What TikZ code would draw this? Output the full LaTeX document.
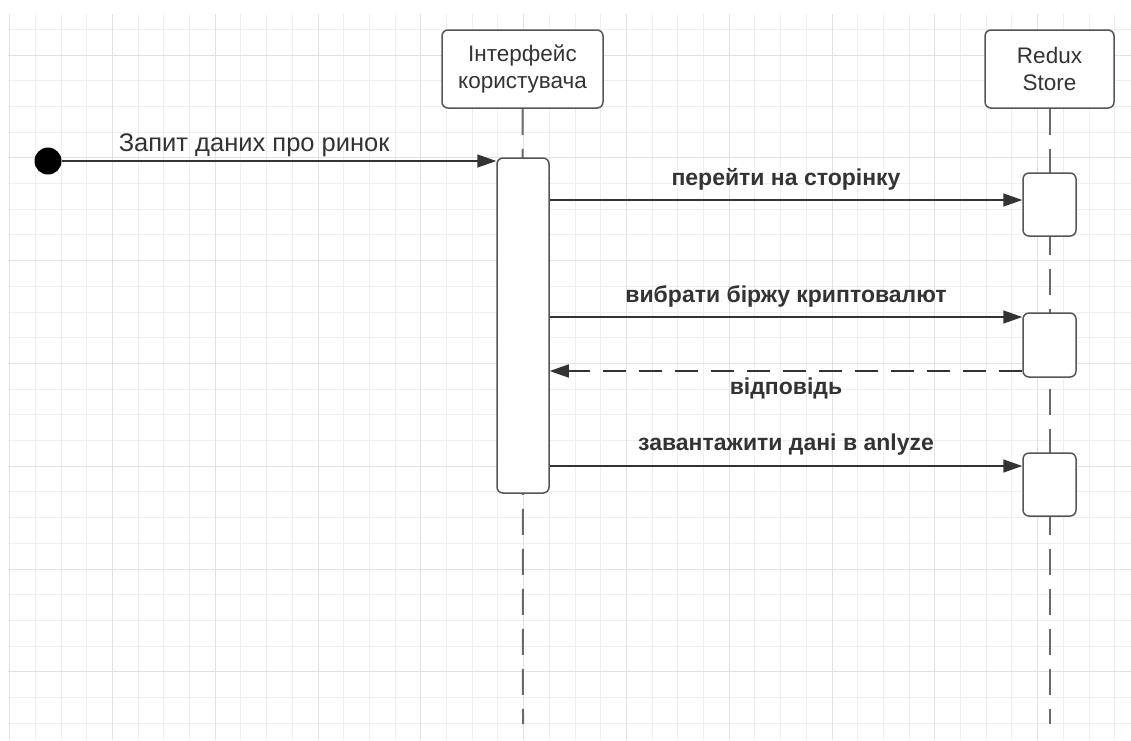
\documentclass[tikz,border=0pt]{standalone}
\usepackage{fontspec}
\setmainfont{Liberation Sans}
\usetikzlibrary{arrows.meta}
\definecolor{gridminor}{HTML}{EFEFEF}
\definecolor{gridmajor}{HTML}{E2E2E2}
\definecolor{ink}{HTML}{333333}
\definecolor{boxline}{HTML}{555555}
\definecolor{lifeline}{HTML}{6A6A6A}
\tikzset{
  headbox/.style={draw=boxline, line width=1.5pt, rounded corners=6pt, fill=white,
    align=center, text=ink, font=\fontsize{22.5}{27}\selectfont, inner sep=0pt},
  actbox/.style={draw=boxline, line width=1.5pt, rounded corners=6pt, fill=white,
    minimum width=52pt, inner sep=0pt},
  lifeln/.style={draw=lifeline, line width=2pt, dash pattern=on 26pt off 14pt},
  msg/.style={draw=ink, line width=1.5pt, -{Triangle[length=19pt,width=13pt]}},
  reply/.style={msg, dash pattern=on 23pt off 13pt},
  msglabel/.style={text=ink, font=\fontsize{23}{27}\selectfont\bfseries},
  startlabel/.style={text=ink, font=\fontsize{25.5}{30}\selectfont, anchor=base},
}
\begin{document}
\begin{tikzpicture}[x=1pt, y=-1pt]
  \useasboundingbox (0,0) rectangle (1131,740);
  % background grid
  \begin{scope}
    \clip (8,14) rectangle (1131,740);
    \foreach \i in {0,...,43} {
      \draw[gridminor, line width=1pt] ({9.6+25.7*\i},14) -- ({9.6+25.7*\i},740);
    }
    \foreach \j in {1,...,28} {
      \draw[gridminor, line width=1pt] (8,{3.6+25.7*\j}) -- (1131,{3.6+25.7*\j});
    }
    \foreach \i in {0,...,10} {
      \draw[gridmajor, line width=1pt] ({9.6+102.8*\i},14) -- ({9.6+102.8*\i},740);
    }
    \foreach \j in {0,...,6} {
      \draw[gridmajor, line width=1pt] (8,{55+102.8*\j}) -- (1131,{55+102.8*\j});
    }
  \end{scope}

  % lifeline heads
  \node[headbox, minimum width=161pt, minimum height=78pt] (ui) at (522.5,69)
    {Інтерфейс\\користувача};
  \node[headbox, minimum width=129pt, minimum height=78pt] (store) at (1049.5,69)
    {Redux\\Store};

  % lifelines
  \coordinate (uiend) at (523,724);
  \coordinate (storeend) at (1049.5,724);
  \draw[lifeln] (ui.south) -- (uiend);
  \draw[lifeln] (store.south) -- (storeend);

  % activations
  \node[actbox, minimum height=335pt] (uiact) at (523,325.5) {};
  \node[actbox, minimum width=53pt, minimum height=63pt] (s1) at (1049.5,204.5) {};
  \node[actbox, minimum width=53pt, minimum height=64pt] (s2) at (1049.5,345) {};
  \node[actbox, minimum width=53pt, minimum height=63pt] (s3) at (1049.5,484.5) {};

  % initial message
  \node[circle, fill=black, minimum size=27pt, inner sep=0pt] (start) at (48,161) {};
  \draw[msg] (start.east) -- node[startlabel, pos=0.443, yshift=9.5pt] {Запит даних про ринок}
    (start -| uiact.west);

  % message levels
  \coordinate (m1) at (0,200);
  \coordinate (m2) at (0,317);
  \coordinate (r2) at (0,371);
  \coordinate (m3) at (0,466);

  \draw[msg] (uiact.east |- m1) -- node[msglabel, yshift=21pt] {перейти на сторінку} (s1.west |- m1);
  \draw[msg] (uiact.east |- m2) -- node[msglabel, yshift=21pt] {вибрати біржу криптовалют} (s2.west |- m2);
  \draw[reply] (s2.west |- r2) -- node[msglabel, yshift=-17pt] {відповідь} (uiact.east |- r2);
  \draw[msg] (uiact.east |- m3) -- node[msglabel, yshift=21pt] {завантажити дані в anlyze} (s3.west |- m3);
\end{tikzpicture}
\end{document}
